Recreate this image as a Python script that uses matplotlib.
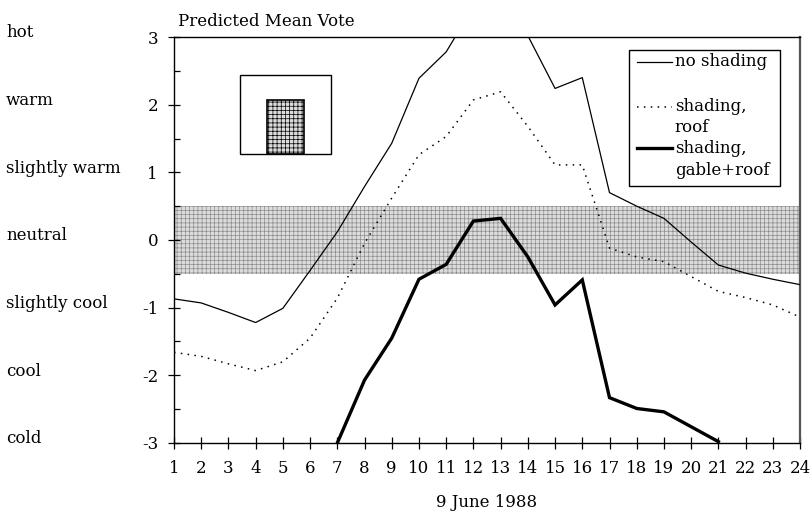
import numpy as np
import matplotlib.pyplot as plt
from matplotlib.patches import Rectangle
from matplotlib.lines import Line2D
from matplotlib.ticker import MultipleLocator

plt.rcParams['font.family'] = ['DejaVu Serif']
plt.rcParams['axes.unicode_minus'] = False
plt.rcParams['hatch.linewidth'] = 0.5
plt.rcParams['hatch.color'] = '#8c8c8c'

nan = np.nan
hours = list(range(1, 25))
no_shading = [-0.87, -0.93, -1.07, -1.22, -1.01, -0.45, 0.12, 0.79, 1.43, 2.39,
              2.78, 3.45, 3.5, 3.02, 2.24, 2.40, 0.70, 0.50, 0.32, -0.03,
              -0.37, -0.49, -0.58, -0.66]
shading_roof = [-1.66, -1.72, -1.83, -1.93, -1.80, -1.45, -0.86, -0.05, 0.62, 1.26,
                1.53, 2.07, 2.19, 1.68, 1.11, 1.11, -0.12, -0.25, -0.32, -0.54,
                -0.76, -0.85, -0.96, -1.14]
shading_gable_roof = [nan, nan, nan, nan, nan, nan, -3.0, -2.07, -1.45, -0.58,
                      -0.36, 0.28, 0.32, -0.25, -0.96, -0.59, -2.33, -2.49, -2.54, -2.76,
                      -2.98, nan, nan, nan]
comfort_band = (-0.5, 0.5)
vote_ticks = [3, 2, 1, 0, -1, -2, -3]
vote_names = ['hot', 'warm', 'slightly warm', 'neutral', 'slightly cool', 'cool', 'cold']
legend_labels = [['no shading'], ['shading,', 'roof'], ['shading,', 'gable+roof']]

fig = plt.figure(figsize=(8.1, 5.12), dpi=100)
ax = fig.add_axes([0.2148, 0.1348, 0.7729, 0.7929])
fs = 12

# comfort zone
ax.axhspan(*comfort_band, facecolor='#dcdcdc', edgecolor='#8c8c8c', hatch='++++',
           linewidth=0, zorder=1)

ax.plot(hours, no_shading, color='black', lw=0.9, zorder=3)
ax.plot(hours, shading_roof, color='black', lw=1.1, linestyle=(0, (1, 3.5)), zorder=3)
ax.plot(hours, shading_gable_roof, color='black', lw=2.4, zorder=3,
        solid_joinstyle='miter')

ax.set_xlim(1, 24)
ax.set_ylim(-3, 3)
ax.set_xticks(hours)
ax.set_yticks(vote_ticks)
ax.yaxis.set_minor_locator(MultipleLocator(0.5))
ax.tick_params(axis='x', direction='inout', length=9, width=0.9, labelsize=fs, pad=8)
ax.tick_params(axis='y', which='major', direction='inout', length=9, width=0.9,
               labelsize=fs, pad=7)
ax.tick_params(axis='y', which='minor', direction='in', length=4, width=0.9)
for s in ax.spines.values():
    s.set_linewidth(1.0)
ax.spines['right'].set_color('#555555')
ax.spines['right'].set_linewidth(1.6)

ax.set_xlabel('9 June 1988', fontsize=fs, labelpad=12)
ax.text(0.006, 1.018, 'Predicted Mean Vote', transform=ax.transAxes,
        fontsize=fs, ha='left', va='bottom')

# verbal scale on the far left
trans = ax.get_yaxis_transform()
for v, name in zip(vote_ticks, vote_names):
    ax.text(-0.268, v + 0.06, name, transform=trans, fontsize=fs,
            ha='left', va='center', clip_on=False)

# little building sketch
ax.add_patch(Rectangle((0.105, 0.712), 0.145, 0.194, transform=ax.transAxes,
                       fill=False, edgecolor='black', lw=1.0, zorder=4))
ax.add_patch(Rectangle((0.148, 0.712), 0.060, 0.133, transform=ax.transAxes,
                       facecolor='#dcdcdc', edgecolor='black', hatch='++++',
                       lw=1.2, zorder=4))

# legend box
ax.add_patch(Rectangle((0.727, 0.634), 0.241, 0.334, transform=ax.transAxes,
                       facecolor='white', edgecolor='black', lw=1.0, zorder=5))
styles = [dict(lw=0.9, linestyle='-'), dict(lw=1.1, linestyle=(0, (1, 3.5))),
          dict(lw=2.4, linestyle='-')]
rows = [[0.939], [0.828, 0.776], [0.726, 0.672]]
for style, lines, ys in zip(styles, legend_labels, rows):
    ax.add_line(Line2D([0.740, 0.796], [ys[0], ys[0]], transform=ax.transAxes,
                       color='black', zorder=6, **style))
    for txt, y in zip(lines, ys):
        ax.text(0.800, y, txt, transform=ax.transAxes, fontsize=fs,
                ha='left', va='center', zorder=6)

fig.savefig('out.png', dpi=100)
